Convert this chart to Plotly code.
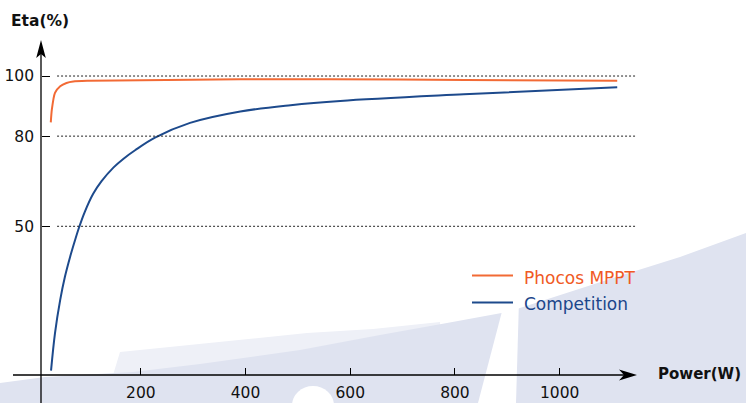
import plotly.graph_objects as go

# ---------------- data ----------------
power_phocos = [28, 30, 36, 46, 58, 71, 100, 200, 390, 560, 820, 1110]
eta_phocos = [84.6, 88.8, 94.4, 96.6, 97.7, 98.2, 98.4, 98.6, 98.9, 98.9, 98.7, 98.4]

power_comp = [28.5, 36, 46, 55, 65, 74, 82, 93, 109, 125, 148, 167, 189, 227, 294, 390, 486, 581, 817, 1110]
eta_comp = [2.0, 14.4, 25.5, 33.2, 39.9, 45.2, 49.6, 54.8, 60.8, 65.0, 69.6, 72.5, 75.3, 79.5, 84.4, 88.2, 90.3, 91.7, 93.9, 96.3]

x_ticks = [200, 400, 600, 800, 1000]
y_ticks = [50, 80, 100]
series_names = ["Phocos MPPT", "Competition"]

# ---------------- styling ----------------
W, H = 746, 403
ORANGE = "#f26a35"
BLUE = "#1d4a8c"
ORANGE_TXT = "#f05a24"
BLUE_TXT = "#1b468b"
WM = "#dfe3f0"
WM_PALE = "#eef0f7"
FONT = "DejaVu Sans"

X_RANGE = [-69.0, 1356.0]
Y_RANGE = [-8.8, 125.3]


def px(x):
    return x / W


def py(y):
    return 1 - y / H


def path(points, close=True):
    s = "M " + " L ".join(f"{px(a):.5f},{py(b):.5f}" for a, b in points)
    return s + (" Z" if close else "")


fig = go.Figure()
fig.add_trace(go.Scatter(x=power_phocos, y=eta_phocos, mode="lines", name=series_names[0],
                         line=dict(color=ORANGE, width=2, shape="spline", smoothing=0.6),
                         showlegend=False))
fig.add_trace(go.Scatter(x=power_comp, y=eta_comp, mode="lines", name=series_names[1],
                         line=dict(color=BLUE, width=2, shape="spline", smoothing=1.0),
                         showlegend=False))

shapes = []
# watermark background
shapes.append(dict(type="path", xref="paper", yref="paper", layer="below",
                   path=path([(110, 385), (120, 352), (307, 333), (373, 329), (440, 322), (440, 385)]),
                   fillcolor=WM_PALE, line=dict(width=0)))
band = [(0, 403), (0, 383), (45, 377), (133, 372), (200, 364), (300, 350), (380, 335),
        (447, 323), (507, 312), (520, 308), (613, 278), (680, 257), (746, 233), (746, 403)]
shapes.append(dict(type="path", xref="paper", yref="paper", layer="below",
                   path=path(band), fillcolor=WM, line=dict(width=0)))
shapes.append(dict(type="path", xref="paper", yref="paper", layer="below",
                   path=path([(505, 300), (519, 300), (516, 403), (478, 403)]),
                   fillcolor="white", line=dict(width=0)))
shapes.append(dict(type="circle", xref="paper", yref="paper", layer="below",
                   x0=px(292), x1=px(334), y0=py(386), y1=py(425),
                   fillcolor="white", line=dict(width=0)))

# dotted grid lines
for v in y_ticks:
    shapes.append(dict(type="line", xref="x", yref="y", x0=40, x1=1146, y0=v, y1=v,
                       line=dict(color="#222", width=1, dash="2px,2px")))

# axis lines
AX_Y = 375
AX_X = 41
shapes.append(dict(type="line", xref="paper", yref="paper", x0=px(13), x1=px(624),
                   y0=py(AX_Y), y1=py(AX_Y), line=dict(color="black", width=1.3)))
shapes.append(dict(type="line", xref="paper", yref="paper", x0=px(AX_X), x1=px(AX_X),
                   y0=py(403), y1=py(54), line=dict(color="black", width=1.3)))
# arrow heads
shapes.append(dict(type="path", xref="paper", yref="paper",
                   path=path([(637, AX_Y), (619, AX_Y - 5.5), (624, AX_Y), (619, AX_Y + 5.5)]),
                   fillcolor="black", line=dict(width=0)))
shapes.append(dict(type="path", xref="paper", yref="paper",
                   path=path([(AX_X, 40), (AX_X - 4.8, 58), (AX_X, 54), (AX_X + 4.8, 58)]),
                   fillcolor="black", line=dict(width=0)))
# legend samples
shapes.append(dict(type="line", xref="paper", yref="paper", x0=px(472), x1=px(513),
                   y0=py(275.5), y1=py(275.5), line=dict(color=ORANGE, width=2)))
shapes.append(dict(type="line", xref="paper", yref="paper", x0=px(472), x1=px(513),
                   y0=py(302.5), y1=py(302.5), line=dict(color=BLUE, width=2)))

annotations = [
    dict(text="<b>Eta(%)</b>", x=px(9), y=py(21), xref="paper", yref="paper",
         xanchor="left", yanchor="middle", showarrow=False,
         font=dict(family=FONT, size=15.5, color="#111")),
    dict(text="<b>Power(W)</b>", x=px(656), y=py(374), xref="paper", yref="paper",
         xanchor="left", yanchor="middle", showarrow=False,
         font=dict(family=FONT, size=15, color="#111")),
    dict(text=series_names[0], x=px(522), y=py(278), xref="paper", yref="paper",
         xanchor="left", yanchor="middle", showarrow=False,
         font=dict(family=FONT, size=17, color=ORANGE_TXT)),
    dict(text=series_names[1], x=px(522), y=py(303.5), xref="paper", yref="paper",
         xanchor="left", yanchor="middle", showarrow=False,
         font=dict(family=FONT, size=17, color=BLUE_TXT)),
]

fig.update_layout(
    width=W, height=H, autosize=False,
    margin=dict(l=0, r=0, t=0, b=0, pad=0),
    paper_bgcolor="white", plot_bgcolor="rgba(0,0,0,0)",
    shapes=shapes, annotations=annotations, showlegend=False,
    xaxis=dict(range=X_RANGE, domain=[0, 1], anchor="free", position=py(AX_Y),
               tickvals=x_ticks, ticktext=[str(t) for t in x_ticks],
               ticks="inside", ticklen=7, tickwidth=1.2, tickcolor="black",
               showline=False, showgrid=False, zeroline=False, fixedrange=True,
               ticklabelstandoff=6,
               tickfont=dict(family=FONT, size=15.5, color="#111")),
    yaxis=dict(range=Y_RANGE, domain=[0, 1], anchor="free", position=px(AX_X),
               tickvals=y_ticks, ticktext=[str(t) for t in y_ticks],
               ticks="inside", ticklen=8, tickwidth=1.2, tickcolor="black",
               showline=False, showgrid=False, zeroline=False, fixedrange=True,
               ticklabelstandoff=7,
               tickfont=dict(family=FONT, size=15.5, color="#111")),
)

fig.write_html("out.html", config={"displayModeBar": False})

# remove the browser's default page margin so the figure sits at the top-left corner
with open("out.html", "r", encoding="utf-8") as f:
    html = f.read()
html = html.replace("<head>", "<head><style>html,body{margin:0;padding:0;overflow:hidden;}</style>", 1)
with open("out.html", "w", encoding="utf-8") as f:
    f.write(html)
